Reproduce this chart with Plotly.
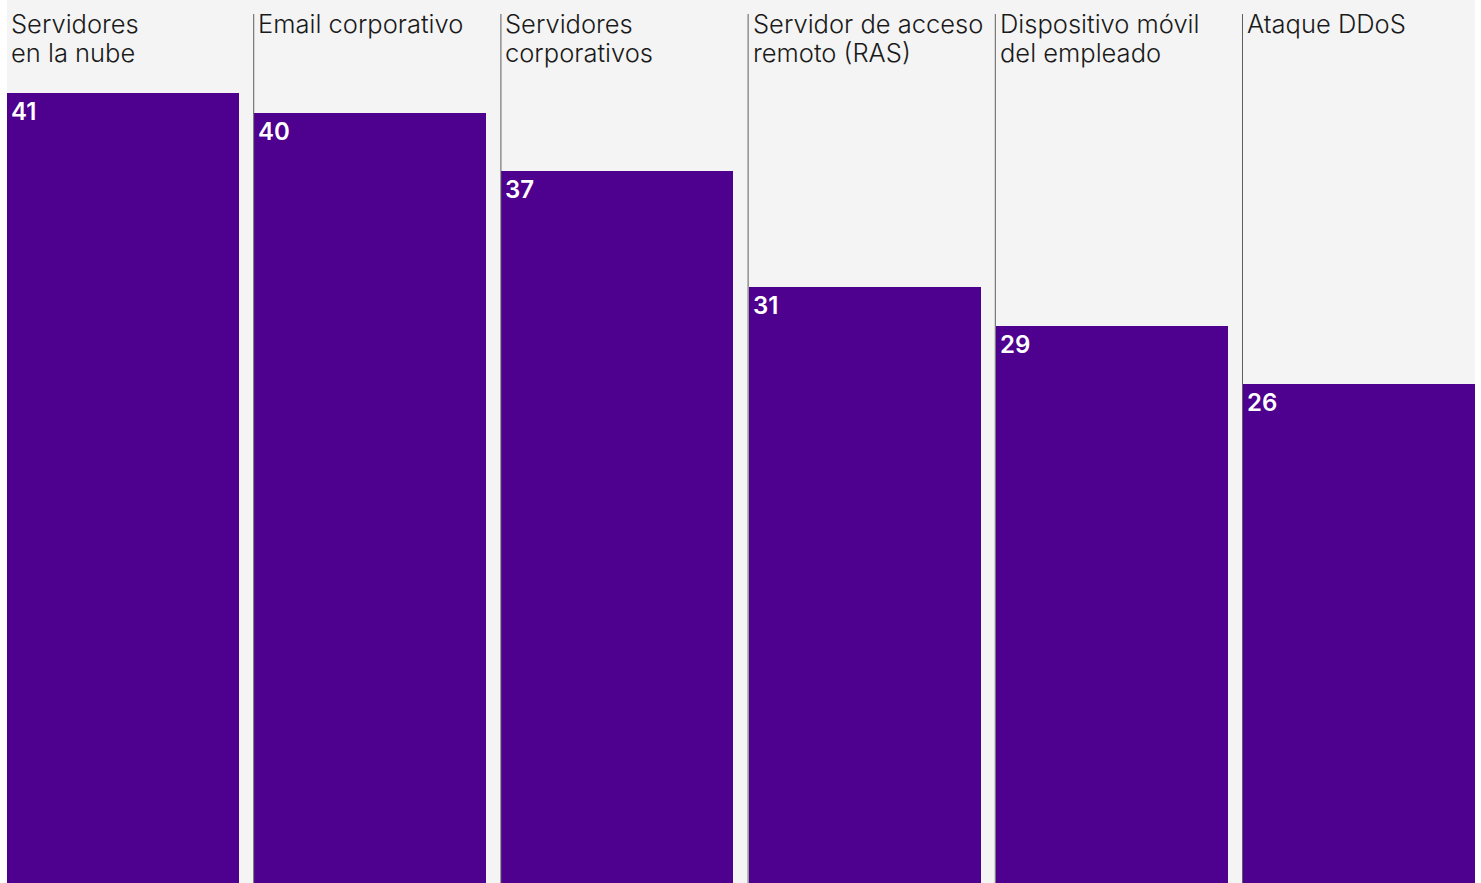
import plotly.graph_objects as go

categories = ["Servidores<br>en la nube", "Email corporativo", "Servidores<br>corporativos",
              "Servidor de acceso<br>remoto (RAS)", "Dispositivo móvil<br>del empleado", "Ataque DDoS"]
values = [41, 40, 37, 31, 29, 26]

BAR_COLOR = "#4e008e"
BG = "#f4f4f4"
BAR_W = 0.9385
FONT = "Inter"
LABEL_SIZE = 25.5
LINE_GAP = 29

xs = list(range(len(values)))

fig = go.Figure()
fig.add_trace(go.Bar(
    x=xs, y=values, width=BAR_W, offset=0,
    marker=dict(color=BAR_COLOR, line=dict(width=0)),
    hoverinfo="skip", showlegend=False,
))

for i, (cat, v) in enumerate(zip(categories, values)):
    for j, part in enumerate(cat.split("<br>")):
        fig.add_annotation(x=i, y=1, xref="x", yref="paper", text=part, showarrow=False,
                           xanchor="left", yanchor="top", align="left", xshift=2,
                           yshift=-6 - j * LINE_GAP,
                           font=dict(family=FONT, size=LABEL_SIZE, color="#1a1a1a", weight=300))
    fig.add_annotation(x=i, y=v, xref="x", yref="y", text=str(v), showarrow=False,
                       xanchor="left", yanchor="top", align="left", xshift=2, yshift=-2,
                       font=dict(family=FONT, size=24, color="white", weight=600))
    if i > 0:
        fig.add_shape(type="line", x0=i - 0.002, x1=i - 0.002, xref="x", yref="paper",
                      y0=0, y1=1 - 14 / 883, line=dict(color="#5e5e5e", width=1), layer="above")

fig.update_layout(
    width=1481, height=883,
    margin=dict(l=7, r=6, t=0, b=0),
    paper_bgcolor="white", plot_bgcolor=BG,
    xaxis=dict(range=[0, len(values) - 1 + BAR_W], visible=False, fixedrange=True),
    yaxis=dict(range=[0.28, 45.8], visible=False, fixedrange=True),
    bargap=0,
)

fig.write_html("out.html")
